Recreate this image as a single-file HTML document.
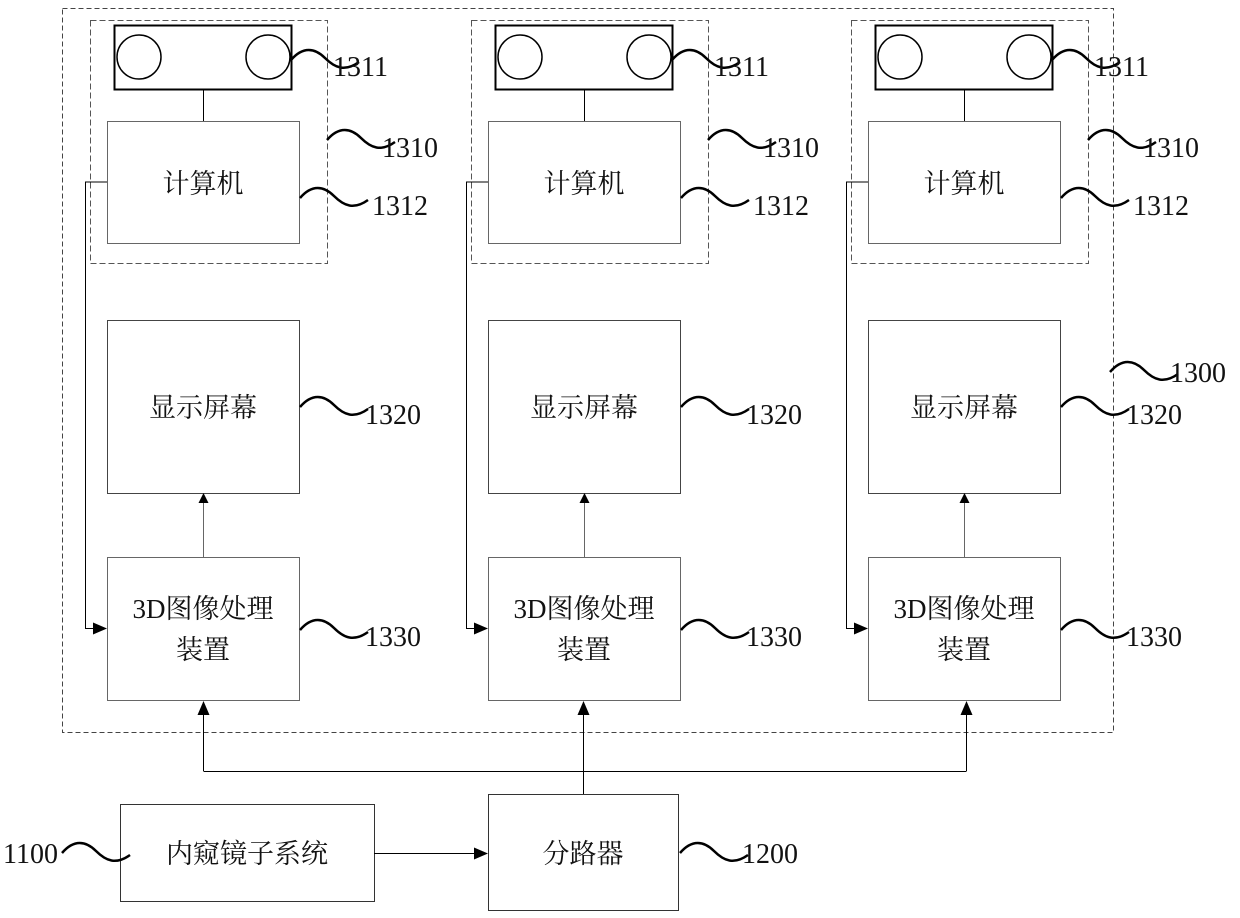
<!DOCTYPE html>
<html><head><meta charset="utf-8"><style>
html,body{margin:0;padding:0;background:#fff;}
svg{display:block;}
text{font-family:"Liberation Serif","Noto Serif CJK SC",serif;fill:#111;}
.cn{font-size:27px;text-anchor:middle;}
.num{font-size:28px;}
</style></head><body>
<svg width="1240" height="918" viewBox="0 0 1240 918" xmlns="http://www.w3.org/2000/svg">
<defs>
<marker id="a" markerWidth="10" markerHeight="10" refX="9" refY="5" orient="auto" markerUnits="userSpaceOnUse" viewBox="0 0 10 10"><path d="M0,0 L10,5 L0,10 z" fill="#000"/></marker>
<marker id="b" markerWidth="14" markerHeight="12" refX="13" refY="6" orient="auto" markerUnits="userSpaceOnUse" viewBox="0 0 14 12"><path d="M0,0 L14,6 L0,12 z" fill="#000"/></marker>
<g id="sq"><path d="M0 0 C12 -14 24 -12 34 -2 S54 12 68 2" fill="none" stroke="#000" stroke-width="2.5"/></g>
</defs>
<rect x="62.5" y="8.5" width="1051" height="724" fill="none" stroke="#444" stroke-width="1" stroke-dasharray="5,3"/>

<g id="col">
<rect x="90.5" y="20.5" width="237" height="243" fill="none" stroke="#555" stroke-dasharray="6,3"/>
<rect x="114.5" y="25.5" width="177" height="64" fill="none" stroke="#000" stroke-width="2"/>
<circle cx="139" cy="57" r="22" fill="none" stroke="#000" stroke-width="1.5"/>
<circle cx="268" cy="57" r="22" fill="none" stroke="#000" stroke-width="1.5"/>
<line x1="203.5" y1="89" x2="203.5" y2="121" stroke="#000"/>
<rect x="107.5" y="121.5" width="192" height="122" fill="none" stroke="#666"/>
<text class="cn" x="203" y="193">计算机</text>
<rect x="107.5" y="320.5" width="192" height="173" fill="none" stroke="#444"/>
<text class="cn" x="203" y="417">显示屏幕</text>
<rect x="107.5" y="557.5" width="192" height="143" fill="none" stroke="#666"/>
<text class="cn" x="203" y="618">3D图像处理</text>
<text class="cn" x="203" y="659">装置</text>
<line x1="203.5" y1="557" x2="203.5" y2="494" stroke="#666" marker-end="url(#a)"/>
<polyline points="107,182 85.5,182 85.5,628.5 106,628.5" fill="none" stroke="#000" marker-end="url(#b)"/>
<use href="#sq" x="291" y="60"/>
<text class="num" x="333" y="76">1311</text>
<use href="#sq" x="327" y="140"/>
<text class="num" x="382" y="157">1310</text>
<use href="#sq" x="300" y="198"/>
<text class="num" x="372" y="215">1312</text>
<use href="#sq" x="300" y="407"/>
<text class="num" x="365" y="424">1320</text>
<use href="#sq" x="300" y="630"/>
<text class="num" x="365" y="646">1330</text>
</g>
<use href="#col" x="381" y="0"/>
<use href="#col" x="761" y="0"/>

<use href="#sq" x="1110" y="372"/>
<text class="num" x="1170" y="382">1300</text>

<polyline points="203.5,771.5 966.5,771.5" fill="none" stroke="#000"/>
<line x1="203.5" y1="771" x2="203.5" y2="702" stroke="#000" marker-end="url(#b)"/>
<line x1="966.5" y1="771" x2="966.5" y2="702" stroke="#000" marker-end="url(#b)"/>
<line x1="583.5" y1="794" x2="583.5" y2="702" stroke="#000" marker-end="url(#b)"/>
<rect x="120.5" y="804.5" width="254" height="97" fill="none" stroke="#333"/>
<text class="cn" x="247" y="863">内窥镜子系统</text>
<rect x="488.5" y="794.5" width="190" height="116" fill="none" stroke="#333"/>
<text class="cn" x="583" y="863">分路器</text>
<line x1="374" y1="853.5" x2="487" y2="853.5" stroke="#000" marker-end="url(#b)"/>
<text class="num" x="3" y="863">1100</text>
<use href="#sq" x="62" y="853"/>
<use href="#sq" x="680" y="853"/>
<text class="num" x="742" y="863">1200</text>
</svg>
</body></html>
